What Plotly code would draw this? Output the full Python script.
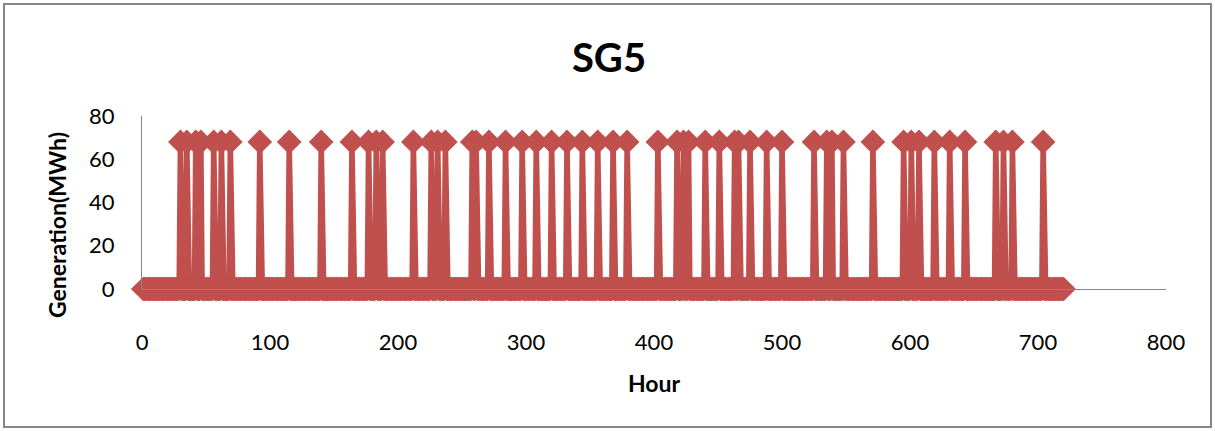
import plotly.graph_objects as go

# Hours of the month shown on the x axis
first_hour = 1
last_hour = 720
# Hours in which SG5 is generating
on_hours = [30, 35, 42, 46, 56, 62, 69, 92, 115, 140, 164, 177, 183, 188,
            212, 226, 231, 237, 258, 261, 271, 284, 297, 308, 320, 332, 344,
            356, 368, 379, 403, 418, 423, 427, 440, 451, 463, 466, 475, 488,
            500, 525, 535, 539, 548, 571, 595, 601, 607, 619, 631, 643, 667,
            673, 680, 704]
on_value = 68     # MWh when generating
off_value = 0     # MWh otherwise

x_ticks = [0, 100, 200, 300, 400, 500, 600, 700, 800]
y_ticks = [0, 20, 40, 60, 80]

hours = list(range(first_hour, last_hour + 1))
on_set = set(on_hours)
generation = [on_value if h in on_set else off_value for h in hours]

RED = "#C0504D"
AXIS = "#868686"
FONT = "Lato, Carlito, 'Open Sans', sans-serif"

fig = go.Figure()
fig.add_trace(go.Scatter(
    x=hours, y=generation, mode="lines+markers",
    line=dict(color=RED, width=5.5),
    marker=dict(symbol="diamond", size=19, color=RED, line=dict(width=0)),
    cliponaxis=False, showlegend=False, hoverinfo="x+y",
))

L, R, T, B = 142, 49, 116, 142
W, H = 1215, 431
pw, ph = W - L - R, H - T - B

def px_x(px):
    return (px - L) / pw

def px_y(py):
    return (H - B - py) / ph

fig.update_layout(
    width=W, height=H,
    margin=dict(l=L, r=R, t=T, b=B, pad=0),
    paper_bgcolor="white", plot_bgcolor="white",
    font=dict(family=FONT, color="#000000", size=22),
    title=dict(text="<b>SG5</b>", x=609 / W, xanchor="center",
               y=1 - 58 / H, yanchor="middle",
               font=dict(family=FONT, size=40, color="#000000")),
    xaxis=dict(range=[0, 800], tickmode="array", tickvals=x_ticks,
               showgrid=False, zeroline=False, showline=True,
               linecolor=AXIS, linewidth=1, ticks="",
               ticklabelstandoff=34, tickfont=dict(size=22)),
    yaxis=dict(range=[0, 80], tickmode="array", tickvals=y_ticks,
               showgrid=False, zeroline=False, showline=True,
               linecolor=AXIS, linewidth=1, ticks="",
               ticklabelstandoff=22, tickfont=dict(size=22)),
    annotations=[
        dict(text="<b>Generation(MWh)</b>", xref="paper", yref="paper",
             x=px_x(57), y=px_y(225), xanchor="center", yanchor="middle",
             textangle=-90, showarrow=False,
             font=dict(family=FONT, size=23, color="#000000")),
        dict(text="<b>Hour</b>", xref="paper", yref="paper",
             x=px_x(654), y=px_y(383), xanchor="center", yanchor="middle",
             showarrow=False,
             font=dict(family=FONT, size=23, color="#000000")),
    ],
    shapes=[dict(type="rect", xref="paper", yref="paper",
                 x0=px_x(4), x1=px_x(1211), y0=px_y(427), y1=px_y(4),
                 line=dict(color=AXIS, width=2), fillcolor="rgba(0,0,0,0)",
                 layer="below")],
)

fig.write_html("out.html")
